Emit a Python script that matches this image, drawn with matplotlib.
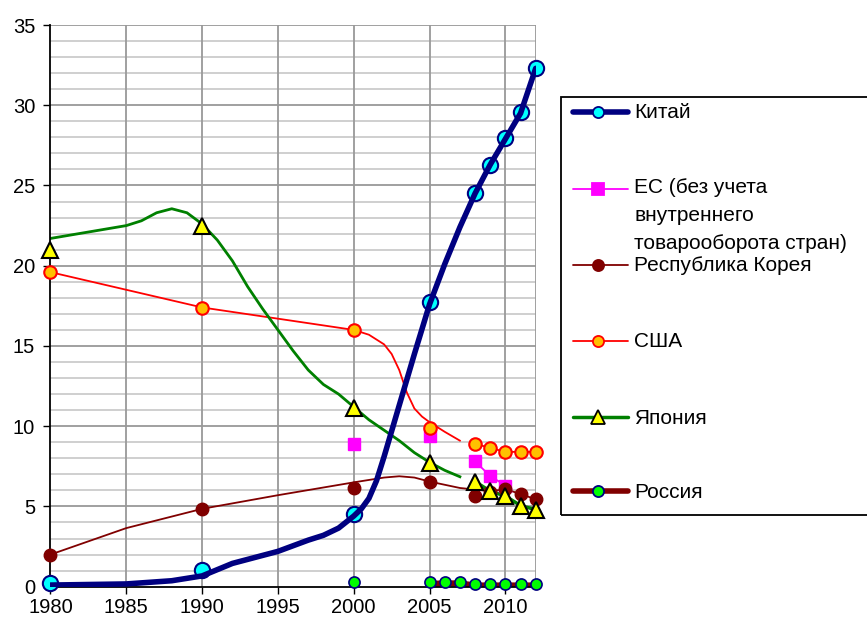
import matplotlib.pyplot as plt
from matplotlib.lines import Line2D
from matplotlib.patches import Rectangle

plt.rcParams['font.family'] = ['Liberation Sans', 'DejaVu Sans']

# smooth lines
china_line_years = [1980, 1985, 1988, 1990, 1992, 1995, 1997, 1998, 1999, 2000, 2000.5, 2001, 2001.5,
                    2002, 2003, 2004, 2005, 2006, 2007, 2008, 2009, 2010, 2011, 2012]
china_line = [0.1, 0.17, 0.37, 0.67, 1.45, 2.2, 2.9, 3.2, 3.65, 4.4, 4.85, 5.5, 6.6,
              8.1, 11.3, 14.5, 17.6, 20.1, 22.4, 24.5, 26.3, 27.9, 29.5, 32.3]

japan_line_years = [1980, 1985, 1986, 1987, 1988, 1989, 1990, 1991, 1992, 1993, 1994, 1995, 1996,
                    1997, 1998, 1999, 2000, 2001, 2002, 2003, 2004, 2005, 2006, 2007]
japan_line = [21.7, 22.5, 22.8, 23.3, 23.55, 23.3, 22.6, 21.6, 20.3, 18.7, 17.3, 16.0, 14.7,
              13.5, 12.6, 12.0, 11.2, 10.4, 9.75, 9.1, 8.35, 7.75, 7.25, 6.85]

usa_line_years = [1980, 1990, 1995, 2000, 2001, 2002, 2002.5, 2003, 2003.5, 2004, 2004.5, 2005,
                  2006, 2007]
usa_line = [19.6, 17.4, 16.7, 16.0, 15.7, 15.1, 14.5, 13.5, 12.1, 11.1, 10.6, 10.25, 9.65, 9.1]

korea_line_years = [1980, 1985, 1990, 1995, 2000, 2002, 2003, 2004, 2005, 2006, 2007, 2008, 2009,
                    2010, 2011, 2012]
korea_line = [2.0, 3.65, 4.85, 5.7, 6.5, 6.8, 6.88, 6.8, 6.55, 6.35, 6.15, 6.05, 5.95,
              6.07, 5.78, 5.44]

# marker series
china_years = [1980, 1990, 2000, 2005, 2008, 2009, 2010, 2011, 2012]
china = [0.2, 1.05, 4.55, 17.75, 24.55, 26.3, 27.95, 29.55, 32.3]
eu_years = [2000, 2005, 2008, 2009, 2010]
eu = [8.9, 9.4, 7.8, 6.9, 6.3]
korea_years = [1980, 1990, 2000, 2005, 2008, 2009, 2010, 2011, 2012]
korea = [2.0, 4.85, 6.15, 6.5, 5.65, 5.9, 6.1, 5.8, 5.45]
usa_years = [1980, 1990, 2000, 2005, 2008, 2009, 2010, 2011, 2012]
usa = [19.6, 17.35, 16.0, 9.9, 8.9, 8.65, 8.4, 8.4, 8.4]
japan_years = [1980, 1990, 2000, 2005, 2008, 2009, 2010, 2011, 2012]
japan = [20.95, 22.45, 11.15, 7.7, 6.55, 5.95, 5.65, 5.05, 4.8]
russia_years = [2000, 2005, 2006, 2007, 2008, 2009, 2010, 2011, 2012]
russia = [0.27, 0.27, 0.3, 0.3, 0.17, 0.17, 0.17, 0.17, 0.17]

x_ticks = [1980, 1985, 1990, 1995, 2000, 2005, 2010]
legend_labels = ['Китай', 'ЕС (без учета\nвнутреннего\nтоварооборота стран)',
                 'Республика Корея', 'США', 'Япония', 'Россия']

fig = plt.figure(figsize=(8.67, 6.22), dpi=100)
ax = fig.add_axes([0.0582, 0.0568, 0.5597, 0.903])

# grid
for y in range(0, 36):
    if y % 5 == 0:
        continue
    ax.axhline(y, color='#cccccc', lw=1.3, zorder=0)
for y in range(5, 36, 5):
    ax.axhline(y, color='#999999', lw=1.3, zorder=0.5)
for x in x_ticks[1:] + [2012]:
    ax.axvline(x, color='#999999', lw=1.3, zorder=0.5)

# lines
ax.plot(korea_line_years, korea_line, color='#800000', lw=1.3, zorder=2)
ax.plot(usa_line_years, usa_line, color='#ff0000', lw=1.3, zorder=2)
ax.plot(japan_line_years, japan_line, color='#008000', lw=2, zorder=2)
ax.plot(usa_years[4:], usa[4:], color='#ff0000', lw=1.3, zorder=2)
ax.plot(eu_years[2:], eu[2:], color='#ff00ff', lw=1.3, zorder=2)
ax.plot(japan_years[4:], japan[4:], color='#008000', lw=2.5, zorder=2)
ax.plot(russia_years[1:], [v - 0.1 for v in russia[1:]], color='#800000', lw=4.5, zorder=2,
        solid_capstyle='butt')

# markers
mk = dict(ls='none', clip_on=False)
ax.plot(russia_years, russia, marker='o', ms=8, mfc='#00ff00', mec='#000080', mew=1.2, zorder=3, **mk)
ax.plot(eu_years, eu, marker='s', ms=8, mfc='#ff00ff', mec='#ff00ff', zorder=3, **mk)
ax.plot(usa_years, usa, marker='o', ms=9, mfc='#ffc000', mec='#ff0000', mew=1.5, zorder=3.2, **mk)
ax.plot(korea_years, korea, marker='o', ms=9, mfc='#800000', mec='#800000', zorder=3.1, **mk)
ax.plot(japan_years, japan, marker='^', ms=11, mfc='#ffff00', mec='#000000', mew=1.5, zorder=3.3, **mk)
ax.plot(china_years, china, marker='o', ms=11, mfc='#00ffff', mec='#000080', mew=1.5, zorder=3.4, **mk)
ax.plot(china_line_years, china_line, color='#000080', lw=4, zorder=3.5, solid_capstyle='round')

ax.set_xlim(1980, 2012)
ax.set_ylim(0, 35)
ax.set_xticks(x_ticks)
ax.set_yticks(range(0, 36, 5))
ax.tick_params(axis='both', labelsize=14.5, length=5, width=1, direction='out', color='black')
ax.tick_params(axis='y', pad=6)
ax.tick_params(axis='x', pad=3)
for s in ['top', 'right']:
    ax.spines[s].set_visible(False)
for s in ['left', 'bottom']:
    ax.spines[s].set_color('black')
    ax.spines[s].set_linewidth(1.3)
    ax.spines[s].set_zorder(2.5)

# legend drawn by hand
W, H = 867, 622


def fx(px):
    return px / W


def fy(py):
    return 1 - py / H


fig.add_artist(Rectangle((fx(561), fy(515)), fx(870) - fx(561), fy(97) - fy(515),
                         fill=False, edgecolor='black', lw=1.3, transform=fig.transFigure))
handles = [
    dict(color='#000080', lw=4, marker='o', ms=8, mfc='#00ffff', mec='#000080'),
    dict(color='#ff00ff', lw=1.3, marker='s', ms=8, mfc='#ff00ff', mec='#ff00ff'),
    dict(color='#800000', lw=1.3, marker='o', ms=8, mfc='#800000', mec='#800000'),
    dict(color='#ff0000', lw=1.3, marker='o', ms=8, mfc='#ffc000', mec='#ff0000'),
    dict(color='#008000', lw=2.5, marker='^', ms=10, mfc='#ffff00', mec='#000000'),
    dict(color='#800000', lw=4, marker='o', ms=8, mfc='#00ff00', mec='#000080'),
]
rows = [112, 189, 265, 341, 417, 491]
for py, hd, lab in zip(rows, handles, legend_labels):
    fig.add_artist(Line2D([fx(573), fx(628)], [fy(py), fy(py)], transform=fig.transFigure,
                          color=hd['color'], lw=hd['lw'], solid_capstyle='round'))
    fig.add_artist(Line2D([fx(598)], [fy(py)], transform=fig.transFigure, marker=hd['marker'],
                          ms=hd['ms'], mfc=hd['mfc'], mec=hd['mec'], mew=1.3))
    if '\n' in lab:
        fig.text(fx(634), fy(py - 11), lab, fontsize=15, va='top', ha='left', linespacing=1.6)
    else:
        fig.text(fx(634), fy(py + 1), lab, fontsize=15, va='center', ha='left')

fig.savefig('out.png', dpi=100)
